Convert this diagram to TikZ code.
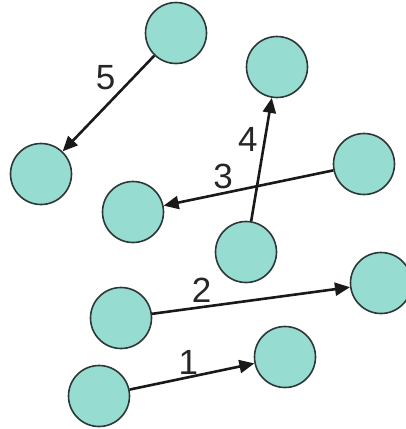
\documentclass[tikz,border=0pt]{standalone}
\usepackage{fontspec}
\setmainfont{Liberation Sans}
\usetikzlibrary{arrows.meta}
\definecolor{ballfill}{RGB}{150,220,208}
\definecolor{ballline}{RGB}{45,55,55}
\begin{document}
\begin{tikzpicture}[x=1pt, y=-1pt,
  ball/.style={circle, fill=ballfill, draw=ballline, line width=1.6pt, minimum size=61pt, inner sep=0pt},
  move/.style={-{Triangle[length=15pt, width=13pt]}, line width=2.6pt, black!90},
  lbl/.style={font=\fontsize{35}{38}\selectfont, inner sep=1pt, text=black!85}]
\useasboundingbox (0,0) rectangle (406,429);
\node[ball] (top) at (176,33) {};
\node[ball] (midl) at (41,174) {};
\node[ball] (topr) at (277,67) {};
\node[ball] (rgt) at (364,164) {};
\node[ball] (ctr) at (133,212) {};
\node[ball] (mid) at (246,252) {};
\node[ball] (farr) at (381,283) {};
\node[ball] (lowl) at (121,318) {};
\node[ball] (bot) at (285,357) {};
\node[ball] (botl) at (99,396) {};
\draw[move] (botl) -- (bot) node[lbl, pos=0.47, above=0pt] {1};
\draw[move] (lowl) -- (farr) node[lbl, pos=0.25, above=2pt] {2};
\draw[move] (rgt) -- (ctr) node[lbl, pos=0.65, above=2pt] {3};
\draw[move] (mid) -- (topr) node[lbl, pos=0.66, left=5pt] {4};
\draw[move] (top) -- (midl) node[lbl, pos=0.39, above left=1pt] {5};
\end{tikzpicture}
\end{document}
